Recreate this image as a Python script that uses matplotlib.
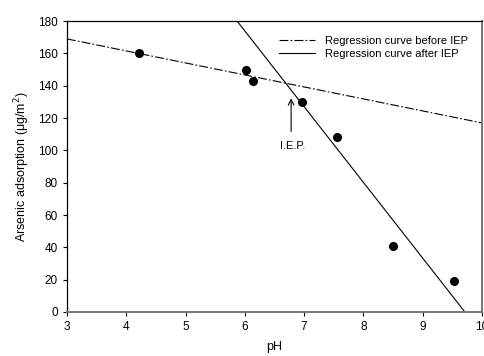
import matplotlib.pyplot as plt
import numpy as np

plt.rcParams['font.family'] = ['Liberation Sans', 'DejaVu Sans']

# measured points
ph = [4.22, 6.02, 6.13, 6.97, 7.55, 8.50, 9.52]
adsorption = [160, 150, 143, 130, 108, 41, 19]

# regression lines (endpoints)
before_x = [3, 10]
before_y = [169, 117]
after_x = [5.87, 9.71]
after_y = [180, 0]

fig = plt.figure(figsize=(4.85, 3.56), dpi=100)
ax = fig.add_axes([0.138, 0.1236, 0.856, 0.817])

ax.plot(before_x, before_y, color='black', lw=0.8, linestyle=(0, (8, 2, 1.5, 2)),
        label='Regression curve before IEP')
ax.plot(after_x, after_y, color='black', lw=0.8, label='Regression curve after IEP')
ax.plot(ph, adsorption, 'o', color='black', ms=5.5)

ax.annotate('', xy=(6.78, 134), xytext=(6.78, 110),
            arrowprops=dict(arrowstyle='->', color='black', lw=0.8))
ax.text(6.8, 103, 'I.E.P.', ha='center', va='center', fontsize=8)

ax.set_xlim(3, 10)
ax.set_ylim(0, 180)
ax.set_xticks(range(3, 11))
ax.set_yticks(range(0, 181, 20))
ax.tick_params(labelsize=8.5, direction='out', length=3, width=0.8)
ax.set_xlabel('pH', fontsize=9, labelpad=6)
ax.set_ylabel('Arsenic adsorption (μg/m$^2$)', fontsize=9, labelpad=4)

for side in ['bottom', 'right']:
    ax.spines[side].set_color('#777777')
    ax.spines[side].set_linewidth(1.4)
for side in ['top', 'left']:
    ax.spines[side].set_linewidth(0.9)

ax.legend(loc='upper right', frameon=False, fontsize=8, handlelength=3.2,
          handletextpad=0.9, labelspacing=0.3, borderaxespad=0.9)

fig.savefig('out.png', dpi=100)
